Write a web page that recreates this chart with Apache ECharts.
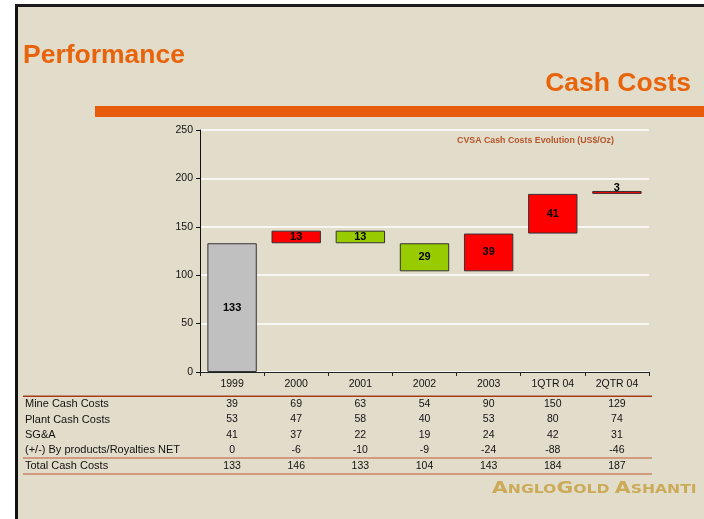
<!DOCTYPE html>
<html><head><meta charset="utf-8">
<script src="https://cdn.jsdelivr.net/npm/echarts/dist/echarts.min.js"></script>
<style>html,body{margin:0;padding:0;background:#fff}#c{width:704px;height:519px}</style>
</head><body><div id="c"></div>
<script>
// ---- data ----
const categories = ['1999','2000','2001','2002','2003','1QTR 04','2QTR 04'];
const stepBase  = [0,133,133,104,104,143,184];
const stepValue = [133,13,13,29,39,41,3];
const stepKind  = ['total','up','down','down','up','up','up'];
const rowLabels = ['Mine Cash Costs','Plant Cash Costs','SG&A','(+/-) By products/Royalties NET','Total Cash Costs'];
const mineCash   = [39,69,63,54,90,150,129];
const plantCash  = [53,47,58,40,53,80,74];
const sga        = [41,37,22,19,24,42,31];
const byProducts = [0,-6,-10,-9,-24,-88,-46];
const totalCash  = [133,146,133,104,143,184,187];
const yMin = 0, yMax = 250, yInterval = 50;
const chartTitle = 'CVSA Cash Costs Evolution (US$/Oz)';

// ---- styling ----
const kindColor = {total:'#C0C0C0', up:'#FF0000', down:'#99CC00'};
const font = '"Liberation Sans", Arial, sans-serif';
const tableRows = [mineCash, plantCash, sga, byProducts, totalCash];
const rowOffsets = [26.5, 42, 57.5, 73, 88.5];
const rowCenters = [404, 419.5, 435, 450, 465.5];

const xAxes = [{
  type:'category', data: categories, gridIndex:0,
  axisLine:{show:true, lineStyle:{color:'#222', width:1}},
  axisTick:{show:true, length:4, lineStyle:{color:'#222'}},
  axisLabel:{interval:0, margin:7, fontSize:10.5, color:'#111', fontFamily:font}
}];
tableRows.forEach((row, r) => {
  xAxes.push({
    type:'category', data: categories, gridIndex:0, position:'bottom', offset: rowOffsets[r],
    axisLine:{show:false}, axisTick:{show:false}, splitLine:{show:false},
    axisLabel:{interval:0, margin:0, fontSize:10.5, color:'#111', fontFamily:font,
      formatter:(v, i) => String(row[i])}
  });
});

const valueData = stepValue.map((v, i) => {
  const item = {value: v, itemStyle:{color: kindColor[stepKind[i]]}};
  if (i === stepValue.length - 1) item.label = {position:'top', distance:-2};
  return item;
});

const graphics = [
  {type:'rect', z:-100, shape:{x:15, y:4, width:689, height:515}, style:{fill:'#E2DCCA'}},
  {type:'rect', z:-90, shape:{x:15, y:4, width:3, height:515}, style:{fill:'#111'}},
  {type:'rect', z:-90, shape:{x:15, y:4, width:689, height:3}, style:{fill:'#1a1a1a'}},
  {type:'rect', z:-80, shape:{x:95, y:106, width:609, height:11}, style:{fill:'#E95B0C'}},
  {type:'text', x:23, y:56, style:{text:'Performance', fill:'#E8630A', font:'bold 26.5px '+font, textVerticalAlign:'middle'}},
  {type:'text', x:691, y:84, style:{text:'Cash Costs', fill:'#E8630A', font:'bold 26.5px '+font, textAlign:'right', textVerticalAlign:'middle'}},
  {type:'text', x:535.5, y:141, style:{text:chartTitle, fill:'#B5562A', font:'bold 8.8px '+font, textAlign:'center', textVerticalAlign:'middle'}},
  {type:'rect', shape:{x:23, y:395.5, width:629, height:1.5}, style:{fill:'#A63C16'}},
  {type:'rect', shape:{x:23, y:457, width:629, height:2}, style:{fill:'#D39A82'}},
  {type:'rect', shape:{x:23, y:473, width:629, height:2}, style:{fill:'#D39A82'}},
  {type:'text', x:492, y:489, scaleX:1.36, style:{
    text:'{b|A}{s|NGLO}{b|G}{s|OLD }{b|A}{s|SHANTI}',
    fill:'#C9A64E', textVerticalAlign:'middle',
    rich:{b:{fontSize:15, fontFamily:'"DejaVu Sans", sans-serif', fill:'#CBAA58', fontWeight:'bold'},
          s:{fontSize:11.5, fontFamily:'"DejaVu Sans", sans-serif', fill:'#CBAA58', fontWeight:'bold', verticalAlign:'bottom'}}
  }}
];
rowLabels.forEach((t, r) => {
  graphics.push({type:'text', x:25, y:rowCenters[r], style:{text:t, fill:'#111', font:'11px '+font, textVerticalAlign:'middle'}});
});

const chart = echarts.init(document.getElementById('c'), null, {renderer:'canvas'});
chart.setOption({
  backgroundColor:'#ffffff',
  animation:false,
  grid:{left:200, right:55, top:130, bottom:147, containLabel:false},
  xAxis: xAxes,
  yAxis:{type:'value', min:yMin, max:yMax, interval:yInterval,
    axisLine:{show:true, lineStyle:{color:'#111', width:1}},
    axisTick:{show:true, length:4, lineStyle:{color:'#111'}},
    axisLabel:{fontSize:10.5, color:'#111', margin:7, fontFamily:font},
    splitLine:{show:true, lineStyle:{color:'#FFFFFF', width:1.5}}},
  graphic: graphics,
  series:[
    {type:'bar', stack:'w', data: stepBase, itemStyle:{color:'rgba(0,0,0,0)', borderWidth:0},
     silent:true, barCategoryGap:'23%', xAxisIndex:0},
    {type:'bar', stack:'w', data: valueData, barCategoryGap:'23%', xAxisIndex:0,
     itemStyle:{borderColor:'#333', borderWidth:1},
     label:{show:true, position:'inside', color:'#000', fontWeight:'bold', fontSize:11, fontFamily:font}}
  ]
});
</script>
</body></html>
